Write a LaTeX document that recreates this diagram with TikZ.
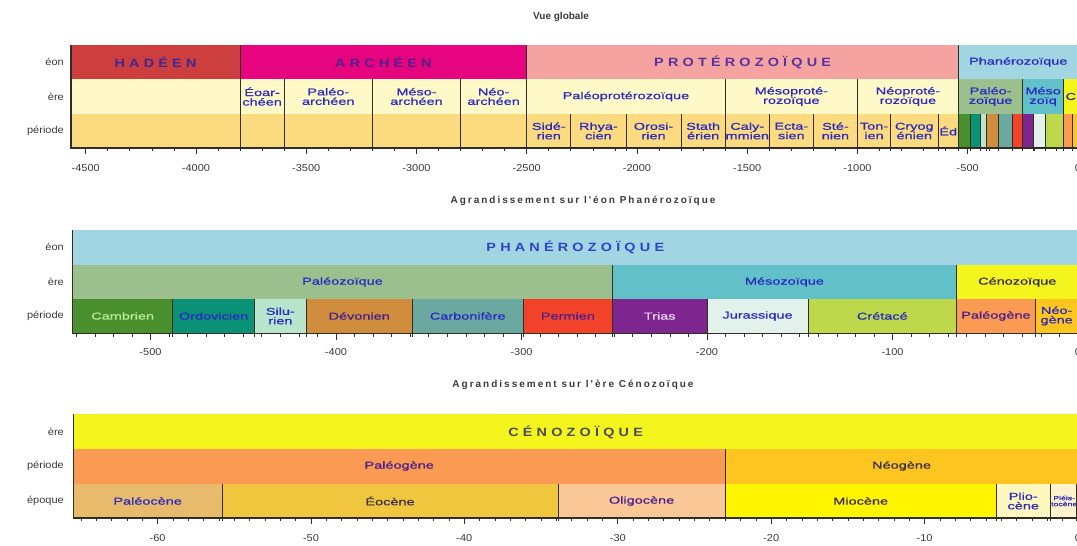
\documentclass[tikz,border=0pt]{standalone}
\usepackage{fontspec}
\setmainfont{Liberation Sans}
\newfontfamily\lblfont[FakeStretch=1.45,FakeBold=0.8]{Liberation Sans}
\newfontfamily\bigfont[LetterSpace=35,FakeStretch=1.2]{Liberation Sans}
\newfontfamily\axfont[FakeStretch=1.1]{Liberation Sans}
\newfontfamily\widefont[LetterSpace=20]{Liberation Sans}

% fonds
\definecolor{hadeen}{HTML}{CD3E3E}
\definecolor{archeen}{HTML}{E6057F}
\definecolor{protero}{HTML}{F5A3A0}
\definecolor{phanero}{HTML}{A0D5E1}
\definecolor{eracream}{HTML}{FFF9C8}
\definecolor{perbeige}{HTML}{FBDA80}
\definecolor{paleoz}{HTML}{9BC08E}
\definecolor{mesoz}{HTML}{62C1C8}
\definecolor{cenoz}{HTML}{F5F51E}
\definecolor{cambrien}{HTML}{4A8F2E}
\definecolor{ordovicien}{HTML}{0A9277}
\definecolor{silurien}{HTML}{B8E6CC}
\definecolor{devonien}{HTML}{CF8D3D}
\definecolor{carbonifere}{HTML}{6AA8A0}
\definecolor{permien}{HTML}{F0432A}
\definecolor{trias}{HTML}{7F2590}
\definecolor{jurassique}{HTML}{E2F2EA}
\definecolor{cretace}{HTML}{BDD84A}
\definecolor{paleogene}{HTML}{FB9A52}
\definecolor{neogene}{HTML}{FDC520}
\definecolor{paleocene}{HTML}{E8BA6C}
\definecolor{eocene}{HTML}{EFC63E}
\definecolor{oligocene}{HTML}{F9C896}
\definecolor{miocene}{HTML}{FFF500}
\definecolor{pliocene}{HTML}{FFF8BE}
\definecolor{pleisto}{HTML}{FFF3CC}
% textes
\definecolor{lblblue}{HTML}{2A2AC0}
\definecolor{lblpurple}{HTML}{4B1E8E}
\definecolor{lbldark}{HTML}{3A2E4E}
\definecolor{bighad}{HTML}{3C2894}
\definecolor{bigarch}{HTML}{50208F}
\definecolor{bigprot}{HTML}{5A32A0}
\definecolor{bigphan}{HTML}{2E44C4}
\definecolor{bigceno}{HTML}{4A4A5A}
\definecolor{txtcamb}{HTML}{B9EC9A}
\definecolor{txttrias}{HTML}{E6DAF5}
\definecolor{axgray}{HTML}{3A3A3A}
\definecolor{sepcol}{HTML}{2E2E22}

\tikzset{
  lbl/.style={font=\lblfont\fontsize{10}{9.5}\selectfont, align=center, inner sep=0pt},
  bigname/.style={font=\bigfont\bfseries\fontsize{12}{12}\selectfont, inner sep=0pt},
  rowname/.style={font=\axfont\fontsize{10}{10}\selectfont, text=axgray, anchor=east, inner sep=0pt},
  ticklbl/.style={font=\axfont\fontsize{10}{10}\selectfont, text=axgray, inner sep=0pt},
  ttl/.style={font=\bfseries\fontsize{10}{10}\selectfont, text=axgray, inner sep=0pt},
  sep/.style={draw=sepcol, line width=0.9pt},
  axisline/.style={draw=sepcol, line width=1.1pt},
  tick/.style={draw=sepcol, line width=0.7pt},
}

\begin{document}
\begin{tikzpicture}[x=1pt,y=-1pt]
  \useasboundingbox (0,0) rectangle (1077,546);

  % ---- vue globale ----
  \node[ttl] (ttl1) at (561,17) {Vue globale};
  \node[rowname] (rg1) at (64,62) {éon};
  \node[rowname] (rg2) at (64,96.5) {ère};
  \node[rowname] (rg3) at (64,131) {période};
  \begin{scope}[shift={(1078pt,0pt)},x=0.2205pt]
    \foreach \s/\e/\fc/\tc/\lb [count=\i] in {-4567/-3800/hadeen/bighad/HADÉEN,
        -3800/-2500/archeen/bigarch/ARCHÉEN, -2500/-542/protero/bigprot/PROTÉROZOÏQUE}{
      \fill[\fc] (\s,45) rectangle (\e,79);
      \node[bigname,text=\tc] (ge\i) at ({(\s+\e)/2},62) {\lb};
    }
    \fill[phanero] (-542,45) rectangle (0,79);
    \node[lbl,text=lblblue] (ge4) at (-271,62) {Phanérozoïque};
    \foreach \s/\e/\fc/\lb [count=\i] in {-4567/-3800/eracream/{},
        -3800/-3600/eracream/{Éoar-\\chéen}, -3600/-3200/eracream/{Paléo-\\archéen},
        -3200/-2800/eracream/{Méso-\\archéen}, -2800/-2500/eracream/{Néo-\\archéen},
        -2500/-1600/eracream/{Paléoprotérozoïque}, -1600/-1000/eracream/{Mésoproté-\\rozoïque},
        -1000/-542/eracream/{Néoproté-\\rozoïque}, -542/-251/paleoz/{Paléo-\\zoïque},
        -251/-65.5/mesoz/{Méso\\zoïq}, -65.5/0/cenoz/C}{
      \fill[\fc] (\s,79) rectangle (\e,114);
      \node[lbl,text=lblblue] (gr\i) at ({(\s+\e)/2},96.5) {\lb};
    }
    \fill[perbeige] (-4567,114) rectangle (-542,148);
    \foreach \s/\e/\lb [count=\i] in {-2500/-2300/{Sidé-\\rien}, -2300/-2050/{Rhya-\\cien},
        -2050/-1800/{Orosi-\\rien}, -1800/-1600/{Stath\\érien}, -1600/-1400/{Caly-\\mmien},
        -1400/-1200/{Ecta-\\sien}, -1200/-1000/{Sté-\\nien}, -1000/-850/{Ton-\\ien},
        -850/-635/{Cryog\\énien}, -635/-542/Éd}{
      \node[lbl,text=lblblue] (gp\i) at ({(\s+\e)/2},131) {\lb};
    }
    \foreach \s/\e/\fc in {-542/-488/cambrien, -488/-444/ordovicien, -444/-416/silurien,
        -416/-359/devonien, -359/-299/carbonifere, -299/-251/permien, -251/-200/trias,
        -200/-145.5/jurassique, -145.5/-65.5/cretace, -65.5/-23/paleogene, -23/0/neogene}
      \fill[\fc] (\s,114) rectangle (\e,148);
    % limites
    \foreach \v in {-3800,-2500,-542} \draw[sep] (\v,45) -- (\v,151);
    \foreach \v in {-3600,-3200,-2800,-1600,-1000,-251,-65.5} \draw[sep] (\v,79) -- (\v,151);
    \foreach \v in {-2300,-2050,-1800,-1400,-1200,-850,-635,-488,-444,-416,-359,-299,-200,-145.5,-23}
      \draw[sep] (\v,114) -- (\v,151);
    \draw[axisline] (-4567,45) -- (-4567,148) -- (0,148);
    \foreach \v in {-4500,-4400,...,0} \draw[tick] (\v,148) -- ++(0,3);
    \foreach \v [count=\i] in {-4500,-4000,...,0}{
      \draw[tick] (\v,148) -- ++(0,6);
      \node[ticklbl] (gt\i) at (\v,168) {\v};
    }
  \end{scope}

  % ---- phanerozoique ----
  \node[ttl,font=\widefont\bfseries\fontsize{10}{10}\selectfont] (ttl2) at (583,201) {Agrandissement sur l'éon Phanérozoïque};
  \node[rowname] (rm1) at (64,247) {éon};
  \node[rowname] (rm2) at (64,282) {ère};
  \node[rowname] (rm3) at (64,316) {période};
  \begin{scope}[shift={(1078pt,0pt)},x=1.855pt]
    \fill[phanero] (-542,230) rectangle (0,264.5);
    \node[bigname,text=bigphan] (me1) at (-271,247) {PHANÉROZOÏQUE};
    \foreach \s/\e/\fc/\tc/\lb [count=\i] in {-542/-251/paleoz/lblblue/Paléozoïque,
        -251/-65.5/mesoz/lblblue/Mésozoïque, -65.5/0/cenoz/lbldark/Cénozoïque}{
      \fill[\fc] (\s,264.5) rectangle (\e,299);
      \node[lbl,text=\tc] (mr\i) at ({(\s+\e)/2},282) {\lb};
    }
    \foreach \s/\e/\fc/\tc/\lb [count=\i] in {-542/-488/cambrien/txtcamb/Cambrien,
        -488/-444/ordovicien/lblblue/Ordovicien, -444/-416/silurien/lblblue/{Silu-\\rien},
        -416/-359/devonien/lblpurple/Dévonien, -359/-299/carbonifere/lblblue/Carbonifère,
        -299/-251/permien/lblpurple/Permien, -251/-200/trias/txttrias/Trias,
        -200/-145.5/jurassique/lblblue/Jurassique, -145.5/-65.5/cretace/lblblue/Crétacé,
        -65.5/-23/paleogene/lblpurple/Paléogène, -23/0/neogene/lblblue/{Néo-\\gène}}{
      \fill[\fc] (\s,299) rectangle (\e,333.5);
      \node[lbl,text=\tc] (mp\i) at ({(\s+\e)/2},316) {\lb};
    }
    \foreach \v in {-251,-65.5} \draw[sep] (\v,264.5) -- (\v,337);
    \foreach \v in {-488,-444,-416,-359,-299,-200,-145.5,-23} \draw[sep] (\v,299) -- (\v,337);
    \draw[axisline] (-542,230) -- (-542,333.5) -- (0,333.5);
    \foreach \v in {-540,-530,...,0} \draw[tick] (\v,333.5) -- ++(0,3);
    \foreach \v [count=\i] in {-500,-400,...,0}{
      \draw[tick] (\v,333.5) -- ++(0,6);
      \node[ticklbl] (mt\i) at (\v,352) {\v};
    }
  \end{scope}

  % ---- cenozoique ----
  \node[ttl,font=\widefont\bfseries\fontsize{10}{10}\selectfont] (ttl3) at (573,385) {Agrandissement sur l'ère Cénozoïque};
  \node[rowname] (rc1) at (64,432) {ère};
  \node[rowname] (rc2) at (64,466) {période};
  \node[rowname] (rc3) at (64,501) {époque};
  \begin{scope}[shift={(1078pt,0pt)},x=15.34pt]
    \fill[cenoz] (-65.5,414) rectangle (0,449);
    \node[bigname,text=bigceno] (ce1) at (-32.75,432) {CÉNOZOÏQUE};
    \foreach \s/\e/\fc/\tc/\lb [count=\i] in {-65.5/-23/paleogene/lblpurple/Paléogène,
        -23/0/neogene/lbldark/Néogène}{
      \fill[\fc] (\s,449) rectangle (\e,483.5);
      \node[lbl,text=\tc] (cp\i) at ({(\s+\e)/2},466) {\lb};
    }
    \foreach \s/\e/\fc/\tc/\lb [count=\i] in {-65.5/-55.8/paleocene/lblblue/Paléocène,
        -55.8/-33.9/eocene/lbldark/Éocène, -33.9/-23/oligocene/lblpurple/Oligocène,
        -23/-5.332/miocene/lbldark/Miocène, -5.332/-1.806/pliocene/lblblue/{Plio-\\cène}}{
      \fill[\fc] (\s,483.5) rectangle (\e,518);
      \node[lbl,text=\tc] (ca\i) at ({(\s+\e)/2},501) {\lb};
    }
    \fill[pleisto] (-1.806,483.5) rectangle (0,518);
    \node[lbl,text=lblblue,font=\lblfont\fontsize{6}{6}\selectfont] (ca6) at (-0.9,501) {Pléis-\\tocène};
    \draw[sep] (-23,449) -- (-23,521);
    \foreach \v in {-55.8,-33.9,-5.332,-1.806,-0.1} \draw[sep] (\v,483.5) -- (\v,521);
    \draw[axisline] (-65.5,414) -- (-65.5,518) -- (0,518);
    \foreach \v in {-65,-64,...,0} \draw[tick] (\v,518) -- ++(0,3);
    \foreach \v [count=\i] in {-60,-50,...,0}{
      \draw[tick] (\v,518) -- ++(0,6);
      \node[ticklbl] (ct\i) at (\v,538) {\v};
    }
  \end{scope}
\end{tikzpicture}
\end{document}
